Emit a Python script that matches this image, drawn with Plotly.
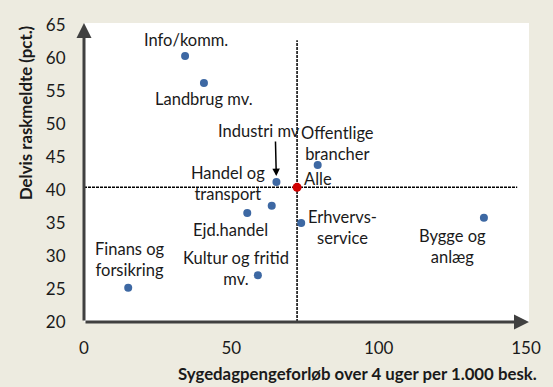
import plotly.graph_objects as go

# Branches: sick-pay spells over 4 weeks per 1,000 employed vs. share partially back at work
branches = ["Info/komm.", "Landbrug mv.", "Industri mv", "Offentlige<br>brancher",
            "Handel og<br>transport", "Ejd.handel", "Kultur og fritid<br>mv.",
            "Finans og<br>forsikring", "Erhvervs-<br>service", "Bygge og<br>anlæg"]
forloeb = [34.3, 40.7, 65.3, 79.3, 63.7, 55.4, 59.0, 15.0, 73.7, 135.7]
raskmeldte = [60.3, 56.2, 41.2, 43.8, 37.6, 36.5, 27.1, 25.2, 35.0, 35.8]

# Label offsets (px) relative to each point
label_dx = [1, 0, -17, 20, -44, -17, -22, 2, 41, -31]
label_dy = [16, -16, 51, 21, 22, -17, 7, 28, -5, -29]

alle_label = "Alle"
alle_x = 72.3
alle_y = 40.4

x_ticks = [0, 50, 100, 150]
y_ticks = [20, 25, 30, 35, 40, 45, 50, 55, 60, 65]

x_title = "Sygedagpengeforløb over 4 uger per 1.000 besk."
y_title = "Delvis raskmeldte (pct.)"

FONT = "Lato"
BG = "#EDEBE0"
AXIS = "#404040"
BLUE = "#3D68A3"
TXT = "#1a1a1a"
LBL = 16.5

fig = go.Figure()

fig.add_trace(go.Scatter(
    x=forloeb, y=raskmeldte, mode="markers",
    marker=dict(size=8, color=BLUE), hoverinfo="skip", showlegend=False))
fig.add_trace(go.Scatter(
    x=[alle_x], y=[alle_y], mode="markers",
    marker=dict(size=9, color="#D00000"), hoverinfo="skip", showlegend=False))

# Average cross-hairs through "Alle"
fig.add_shape(type="line", x0=alle_x, x1=alle_x, y0=20, y1=62.7,
              line=dict(color="black", width=1.5, dash="3px,1px"), layer="below")
fig.add_shape(type="line", x0=0, x1=147, y0=alle_y, y1=alle_y,
              line=dict(color="black", width=1.5, dash="3px,1px"), layer="below")

annotations = []
for name, x, y, dx, dy in zip(branches, forloeb, raskmeldte, label_dx, label_dy):
    annotations.append(dict(x=x, y=y, text=name, showarrow=False,
                            xshift=dx, yshift=dy, align="center",
                            font=dict(family=FONT, size=LBL, color=TXT)))

# Pointer to "Industri mv"
annotations.append(dict(x=forloeb[2], y=raskmeldte[2], text="", showarrow=True,
                        ax=-1, ay=-42, arrowhead=2, arrowsize=1, arrowwidth=1.5,
                        arrowcolor="black", standoff=6))

annotations.append(dict(x=alle_x, y=alle_y, text=alle_label, showarrow=False,
                        xanchor="left", xshift=5, yshift=8,
                        font=dict(family=FONT, size=LBL, color=TXT)))

# Axis lines with arrow heads
annotations.append(dict(x=151, y=20, ax=0, ay=20, axref="x", ayref="y", text="",
                        showarrow=True, arrowhead=2, arrowsize=1, arrowwidth=3,
                        arrowcolor=AXIS))
annotations.append(dict(x=0, y=65.3, ax=0, ay=20, axref="x", ayref="y", text="",
                        showarrow=True, arrowhead=2, arrowsize=1, arrowwidth=3,
                        arrowcolor=AXIS))

# Axis titles
annotations.append(dict(xref="paper", yref="paper", x=(362 - 84) / 453, y=-(373 - 322) / 299,
                        text="<b>" + x_title + "</b>", showarrow=False,
                        xanchor="center", yanchor="middle",
                        font=dict(family=FONT, size=16.8, color=TXT)))
annotations.append(dict(xref="paper", yref="paper", x=-(84 - 24) / 453, y=(322 - 113) / 299,
                        text="<b>" + y_title + "</b>", showarrow=False, textangle=-90,
                        xanchor="center", yanchor="middle",
                        font=dict(family=FONT, size=16.8, color=TXT)))

fig.update_layout(
    width=553, height=387,
    margin=dict(l=84, r=16, t=23, b=65),
    paper_bgcolor=BG, plot_bgcolor="white",
    annotations=annotations,
    xaxis=dict(range=[0, 151], tickvals=x_ticks, showgrid=False, zeroline=False,
               showline=False, ticks="outside", ticklen=11, tickcolor="rgba(0,0,0,0)",
               tickfont=dict(family=FONT, size=17, color=TXT)),
    yaxis=dict(range=[20, 65.3], tickvals=y_ticks, showgrid=False, zeroline=False,
               showline=False, ticks="outside", ticklen=14, tickcolor="rgba(0,0,0,0)",
               tickfont=dict(family=FONT, size=17, color=TXT)),
)

fig.write_html("out.html")
